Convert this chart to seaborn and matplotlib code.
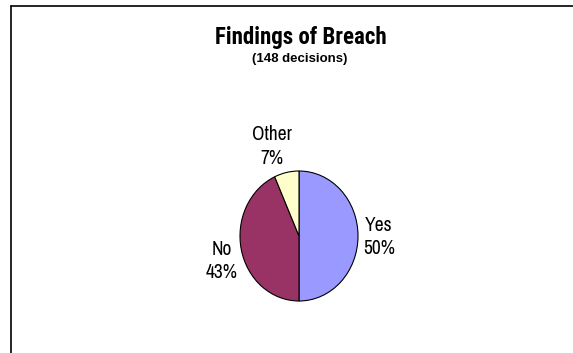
import matplotlib
matplotlib.use("Agg")
import matplotlib.pyplot as plt
import seaborn as sns
from matplotlib.lines import Line2D

categories = ["Yes", "No", "Other"]
counts = [74, 64, 10]
percent_labels = ["50%", "43%", "7%"]
colors = ["#9999FF", "#993366", "#FFFFCC"]
title = "Findings of Breach"
subtitle = "(148 decisions)"

sns.set_theme(style="white")
plt.rcParams['font.family'] = ['Liberation Sans', 'DejaVu Sans']

W, H = 573, 353
fig = plt.figure(figsize=(W / 100, H / 100), dpi=100)
fig.patch.set_facecolor("white")

# pie axes: centre (299,236), rx ~59, ry ~65 px
cx, cy, rx, ry = 299, 236, 59, 65
ax = fig.add_axes([(cx - rx) / W, 1 - (cy + ry) / H, 2 * rx / W, 2 * ry / H])
wedges, _ = ax.pie(counts, colors=colors, startangle=90, counterclock=False,
                   wedgeprops=dict(edgecolor="black", linewidth=0.8),
                   radius=1.0, frame=False)
ax.set_xlim(-1, 1)
ax.set_ylim(-1, 1)
ax.set_aspect("auto")
ax.axis("off")

label_pos = {"Yes": (379, 237), "No": (222, 261), "Other": (271.5, 146.5)}
for cat, pct in zip(categories, percent_labels):
    x, y = label_pos[cat]
    fig.text(x / W, 1 - y / H, f"{cat}\n{pct}", ha="center", va="center",
             fontsize=14, color="black", linespacing=1.3,
             family=["Archivo Narrow", "Liberation Sans", "DejaVu Sans"])

fig.text(301 / W, 1 - 35 / H, title, ha="center", va="center_baseline",
         fontsize=16.5, fontweight="bold", color="black",
         family=["Roboto Condensed", "Liberation Sans", "DejaVu Sans"])
fig.text(300 / W, 1 - 59 / H, subtitle, ha="center", va="center",
         fontsize=9.5, fontweight="bold", color="black")

# frame lines (top and left)
fig.add_artist(Line2D([11 / W, 1], [1 - 6 / H, 1 - 6 / H], transform=fig.transFigure,
                      color="black", linewidth=1.2))
fig.add_artist(Line2D([11 / W, 11 / W], [0, 1 - 6 / H], transform=fig.transFigure,
                      color="black", linewidth=1.2))

fig.savefig("out.png", dpi=100, facecolor="white")
